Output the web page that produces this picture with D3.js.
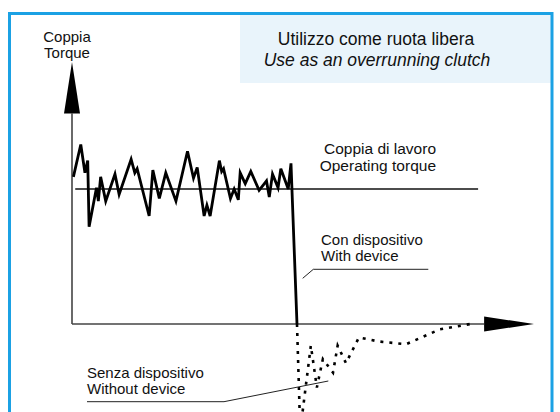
<!DOCTYPE html>
<html>
<head>
<meta charset="utf-8">
<script src="https://cdn.jsdelivr.net/npm/d3@7"></script>
<style>
    html, body { margin: 0; padding: 0; background: #fff; }
    svg { display: block; font-family: "Liberation Sans", Arial, sans-serif; }
</style>
</head>
<body>
<svg class="chart" width="560" height="412"></svg>
<script>

// torque trace with the device (time, torque)
const time_with = [0.3, 1.9, 2.8, 3.4, 3.7, 5.3, 5.7, 6.2, 7.3, 9.3, 10.2, 12.8, 13.6, 14.1, 16.7, 17.5, 18.9, 20.3, 22.5, 25.0, 26.3, 27.1, 28.6, 29.2, 29.9, 31.9, 32.4, 32.8, 34.3, 35.1, 36.0, 36.4, 37.5, 38.7, 40.5, 42.1, 42.7, 43.4, 44.6, 45.2, 46.8, 47.4, 48.7];
const torque_with = [1.09, 1.33, 1.12, 1.21, 0.72, 1.01, 0.91, 1.09, 0.91, 1.11, 0.96, 1.22, 1.12, 1.15, 0.80, 1.14, 0.93, 1.12, 0.91, 1.28, 1.08, 1.16, 0.80, 0.88, 0.80, 1.21, 1.13, 1.15, 0.93, 1.00, 0.92, 1.12, 1.04, 1.13, 0.99, 1.06, 0.94, 1.11, 1.01, 1.15, 1.00, 1.19, 0.00];

// torque trace without the device
const time_without = [48.7, 49.4, 51.7, 53.0, 54.3, 56.5, 57.5, 59.3, 62.1, 66.5, 72.3, 79.6, 86.2];
const torque_without = [0.00, -0.79, -0.16, -0.47, -0.26, -0.36, -0.16, -0.29, -0.10, -0.13, -0.15, -0.04, 0.00];

const operating_torque = 1.0;
const operating_span = [0.7, 87.9];

const title_lines = ['Utilizzo come ruota libera', 'Use as an overrunning clutch'];
const axis_label = ['Coppia', 'Torque'];
const operating_label = ['Coppia di lavoro', 'Operating torque'];
const with_label = ['Con dispositivo', 'With device'];
const without_label = ['Senza dispositivo', 'Without device'];

const main = {};

main.svg = d3.select('.chart');

main.x = d3.scaleLinear().domain([0, 100]).range([72, 534]);
main.y = d3.scaleLinear().domain([0, 2]).range([324, 54]);

const x = main.x, y = main.y;
const svg = main.svg;

// frame + title box
svg.append('rect')
    .attr('x', 240).attr('y', 14)
    .attr('width', 311).attr('height', 69)
    .attr('fill', '#e9f4fb');

svg.append('rect')
    .attr('x', 9.5).attr('y', 13.5)
    .attr('width', 542.5).attr('height', 430)
    .attr('fill', 'none')
    .attr('stroke', '#1ba1e4')
    .attr('stroke-width', 3);

svg.append('text')
    .attr('x', 376).attr('y', 45)
    .attr('text-anchor', 'middle')
    .attr('font-size', 17.5)
    .attr('fill', '#111')
    .text(title_lines[0]);

svg.append('text')
    .attr('x', 377).attr('y', 66)
    .attr('text-anchor', 'middle')
    .attr('font-size', 17.5)
    .attr('font-style', 'italic')
    .attr('fill', '#111')
    .text(title_lines[1]);

// axes
const axis_color = '#444';
const y_tip = 1.94, y_base = 1.56;
const x_base = 89.2;

svg.append('line')
    .attr('x1', x(0)).attr('x2', x(x_base))
    .attr('y1', y(0)).attr('y2', y(0))
    .attr('stroke', axis_color).attr('stroke-width', 1.6);

svg.append('line')
    .attr('x1', x(0)).attr('x2', x(0))
    .attr('y1', y(0)).attr('y2', y(y_base))
    .attr('stroke', axis_color).attr('stroke-width', 1.6);

svg.append('path')
    .attr('d', `M${x(0)},${y(y_tip)} L${x(0) + 8},${y(y_base)} L${x(0) - 8},${y(y_base)} Z`)
    .attr('fill', '#000');

svg.append('path')
    .attr('d', `M${x(100)},${y(0)} L${x(x_base)},${y(0) - 7.5} L${x(x_base)},${y(0) + 7.5} Z`)
    .attr('fill', '#000');

axis_label.forEach((t, i) => {
    svg.append('text')
        .attr('x', 67).attr('y', 42 + i * 16)
        .attr('text-anchor', 'middle')
        .attr('font-size', 15)
        .attr('fill', '#111')
        .text(t);
});

// operating torque reference
svg.append('line')
    .attr('x1', x(operating_span[0])).attr('x2', x(operating_span[1]))
    .attr('y1', y(operating_torque)).attr('y2', y(operating_torque))
    .attr('stroke', '#111').attr('stroke-width', 1.5);

// traces
const line = d3.line().x(d => x(d[0])).y(d => y(d[1]));

svg.append('path')
    .datum(d3.zip(time_without, torque_without))
    .attr('d', line)
    .attr('fill', 'none')
    .attr('stroke', '#000')
    .attr('stroke-width', 2.6)
    .attr('stroke-dasharray', '3,6');

svg.append('path')
    .datum(d3.zip(time_with, torque_with))
    .attr('d', line)
    .attr('fill', 'none')
    .attr('stroke', '#000')
    .attr('stroke-width', 2.8)
    .attr('stroke-linejoin', 'miter');

// annotations
operating_label.forEach((t, i) => {
    svg.append('text')
        .attr('x', 436).attr('y', 154 + i * 17)
        .attr('text-anchor', 'end')
        .attr('font-size', 15.5)
        .attr('fill', '#111')
        .text(t);
});

with_label.forEach((t, i) => {
    svg.append('text')
        .attr('x', 321).attr('y', 244.5 + i * 16)
        .attr('font-size', 15)
        .attr('fill', '#111')
        .text(t);
});

svg.append('path')
    .attr('d', 'M302.7,278.3 L313.3,269.3 L428.3,269.3')
    .attr('fill', 'none').attr('stroke', '#222').attr('stroke-width', 1);

without_label.forEach((t, i) => {
    svg.append('text')
        .attr('x', 87).attr('y', 378 + i * 16)
        .attr('font-size', 15)
        .attr('fill', '#111')
        .text(t);
});

svg.append('path')
    .attr('d', 'M87,401.7 L224,401.7 L328.3,381')
    .attr('fill', 'none').attr('stroke', '#222').attr('stroke-width', 1);

</script>
</body>
</html>
